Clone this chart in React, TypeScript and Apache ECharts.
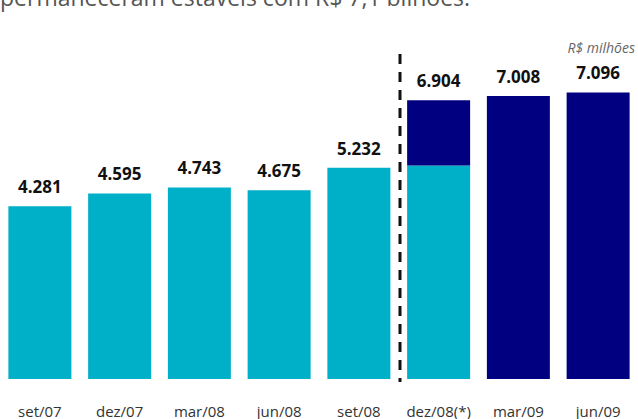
import React, { useEffect, useRef } from "react";
import * as echarts from "echarts";

const categories = ["set/07", "dez/07", "mar/08", "jun/08", "set/08", "dez/08(*)", "mar/09", "jun/09"];
const totals = [4281, 4595, 4743, 4675, 5232, 6904, 7008, 7096];
const cyanValues = [4281, 4595, 4743, 4675, 5232, 5290, 0, 0];
const navyValues = [0, 0, 0, 0, 0, 1614, 7008, 7096];
const headline = "permaneceram estáveis com R$ 7,1 bilhões.";
const unitLabel = "R$ milhões";

const fmt = (v: number) => {
  const s = String(v);
  return s.length > 3 ? s.slice(0, s.length - 3) + "." + s.slice(s.length - 3) : s;
};

const CYAN = "#00AFC8";
const NAVY = "#000080";

export default function App() {
  const ref = useRef<HTMLDivElement>(null);
  useEffect(() => {
    const chart = echarts.init(ref.current!, null, { renderer: "svg" });
    const labelStyle = {
      show: true,
      position: "top" as const,
      distance: 11,
      fontFamily: "Open Sans",
      fontWeight: "bold" as const,
      fontSize: 17,
      color: "#111",
    };
    chart.setOption({
      animation: false,
      grid: { left: 0, right: -2, top: 60, bottom: 40, containLabel: false },
      xAxis: {
        type: "category",
        data: categories,
        axisLine: { show: false },
        axisTick: { show: false },
        axisLabel: {
          interval: 0,
          fontFamily: "Open Sans",
          fontSize: 15,
          color: "#333",
          margin: 24,
        },
      },
      yAxis: {
        type: "value",
        min: 0,
        max: 7900,
        show: false,
        splitLine: { show: false },
      },
      series: [
        {
          type: "bar",
          stack: "a",
          barWidth: 63,
          itemStyle: { color: CYAN },
          data: cyanValues.map((v, i) => ({
            value: v,
            label: i < 5 ? { ...labelStyle, formatter: () => fmt(totals[i]) } : { show: false },
          })),
        },
        {
          type: "bar",
          stack: "a",
          barWidth: 63,
          itemStyle: { color: NAVY },
          data: navyValues.map((v, i) => ({
            value: v,
            label: i >= 5 ? { ...labelStyle, formatter: () => fmt(totals[i]) } : { show: false },
          })),
        },
      ],
      graphic: [
        {
          type: "text",
          left: 0,
          top: -15,
          style: {
            text: headline,
            fontFamily: "Open Sans",
            fontSize: 23,
            fill: "#555",
          },
        },
        {
          type: "text",
          right: 3,
          top: 40,
          style: {
            text: unitLabel,
            fontFamily: "Open Sans",
            fontStyle: "italic",
            fontSize: 14,
            fill: "#666",
          },
        },
        {
          type: "line",
          shape: { x1: 400, y1: 54, x2: 400, y2: 382 },
          style: { stroke: "#111", lineWidth: 3, lineDash: [10, 8] },
        },
      ],
    });
    return () => chart.dispose();
  }, []);
  return (
    <div
      ref={ref}
      style={{ position: "fixed", left: 0, top: 0, width: 638, height: 419, background: "#fff" }}
    />
  );
}
